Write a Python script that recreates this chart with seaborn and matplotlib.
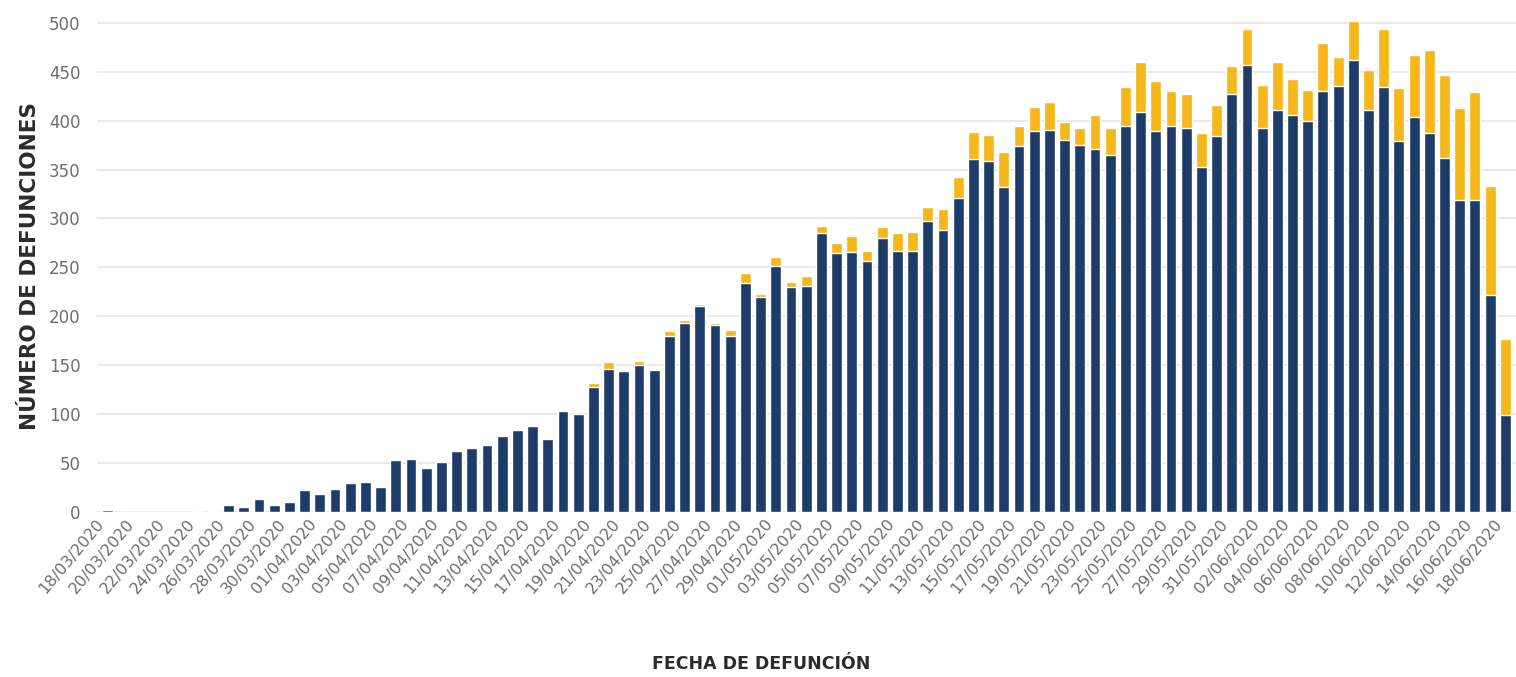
import matplotlib
matplotlib.use("Agg")
import matplotlib.pyplot as plt
import seaborn as sns
import pandas as pd

# Dates of death (18/03/2020 - 18/06/2020)
fechas = [d.strftime("%d/%m/%Y") for d in pd.date_range("2020-03-18", "2020-06-18", freq="D")]

# Dark blue segment (lower part of each bar)
azul = [2, 0, 0, 0, 0, 0, 1, 1, 7, 5,
        13, 7, 10, 22, 18, 24, 30, 31, 26, 53,
        54, 45, 51, 62, 65, 68, 78, 84, 88, 75,
        103, 100, 128, 146, 144, 150, 145, 180, 193, 211,
        191, 180, 234, 220, 251, 230, 231, 285, 265, 266,
        257, 280, 267, 267, 297, 288, 321, 361, 359, 332,
        374, 389, 390, 380, 375, 371, 365, 394, 409, 389,
        394, 392, 353, 384, 427, 457, 392, 411, 406, 400,
        430, 435, 462, 411, 434, 379, 404, 387, 362, 319,
        319, 222, 99]

# Yellow segment (stacked on top)
amarillo = [0, 0, 0, 0, 0, 0, 0, 0, 0, 0,
            0, 0, 0, 0, 0, 0, 0, 0, 0, 0,
            0, 0, 0, 0, 0, 0, 0, 0, 0, 0,
            0, 0, 4, 7, 1, 4, 1, 5, 3, 2,
            2, 6, 10, 3, 10, 5, 10, 7, 10, 16,
            10, 11, 18, 19, 15, 22, 21, 27, 26, 36,
            20, 25, 29, 19, 17, 35, 27, 40, 51, 51,
            36, 35, 34, 32, 29, 37, 44, 49, 37, 31,
            49, 30, 40, 41, 60, 54, 63, 85, 85, 94,
            110, 111, 78]

y_ticks = [0, 50, 100, 150, 200, 250, 300, 350, 400, 450, 500]

df = pd.DataFrame({"fecha": fechas, "azul": azul, "amarillo": amarillo})
df["total"] = df["azul"] + df["amarillo"]

sns.set_theme(style="white")
plt.rcParams["font.family"] = ["DejaVu Sans"]

W, H = 1516, 677
fig = plt.figure(figsize=(W / 100, H / 100), dpi=100)
fig.patch.set_facecolor("white")
ax = fig.add_axes([97 / W, 1 - 512 / H, 1 - 97 / W, (512 - 13) / H])

navy = "#1d3c69"
gold = "#f5b719"

sns.barplot(data=df, x="fecha", y="total", order=fechas, color=gold,
            saturation=1, width=0.72, errorbar=None, ax=ax, zorder=2)
sns.barplot(data=df, x="fecha", y="azul", order=fechas, color=navy,
            saturation=1, width=0.72, errorbar=None, ax=ax, zorder=3)

ax.set_ylim(0, 510)
ax.set_xlim(-0.66, 92.7)
ax.set_yticks(y_ticks)
ax.set_yticklabels([str(v) for v in y_ticks], fontsize=12, color="#6e6e6e")
ax.yaxis.grid(True, color="#e6e6e6", linewidth=1.2, zorder=0)
ax.xaxis.grid(False)
ax.set_axisbelow(True)

ax.set_xticks(range(0, len(fechas), 2))
ax.set_xticklabels(fechas[::2], rotation=50, ha="right", rotation_mode="default",
                   fontsize=11.5, color="#6e6e6e")
ax.tick_params(axis="both", length=0)
ax.tick_params(axis="y", pad=12)
ax.tick_params(axis="x", pad=3)

for s in ax.spines.values():
    s.set_visible(False)

ax.set_xlabel("")
ax.set_ylabel("")
fig.text(30 / W, 1 - 266 / H, "NÚMERO DE DEFUNCIONES", rotation=90,
         ha="center", va="center", fontsize=15.5, fontweight="bold", color="#2b2b2b")
fig.text(761 / W, 1 - 664 / H, "FECHA DE DEFUNCIÓN",
         ha="center", va="center", fontsize=12.5, fontweight="bold", color="#2b2b2b")

fig.savefig("out.png", dpi=100, facecolor="white")
